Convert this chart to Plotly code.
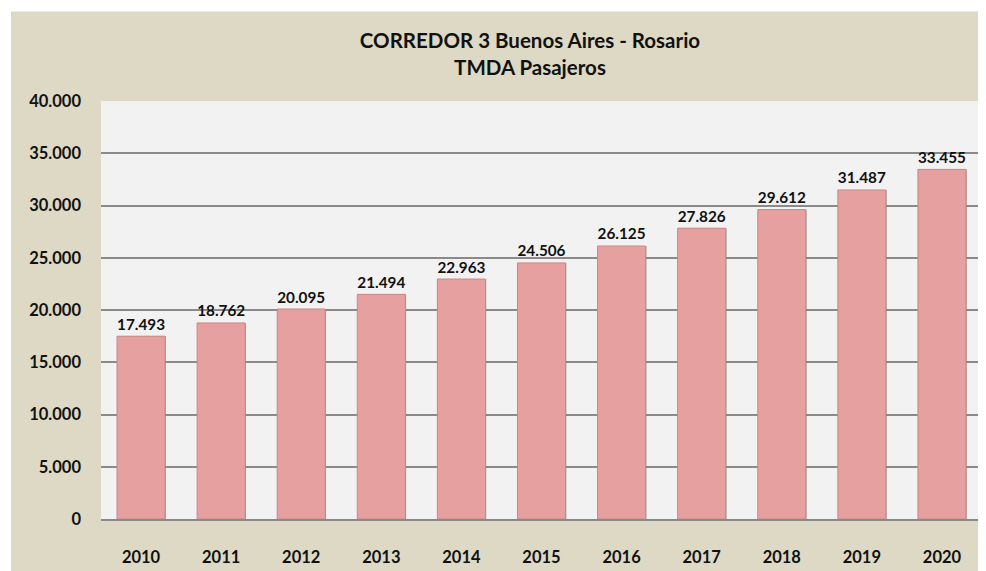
import plotly.graph_objects as go

years = ["2010", "2011", "2012", "2013", "2014", "2015", "2016", "2017", "2018", "2019", "2020"]
tmda = [17493, 18762, 20095, 21494, 22963, 24506, 26125, 27826, 29612, 31487, 33455]
y_ticks = [0, 5000, 10000, 15000, 20000, 25000, 30000, 35000, 40000]
title_lines = ["CORREDOR 3 Buenos Aires - Rosario", "TMDA Pasajeros"]

FONT = "Lato, Noto Sans, sans-serif"
# the page body has an 8px margin, so the figure is sized / placed accordingly
W, H = 978, 563
PW, PH = 881, 420

fig = go.Figure()
# shadow
fig.add_trace(go.Bar(
    x=years, y=tmda, offset=-0.29, width=0.6,
    marker=dict(color="rgba(90,90,90,0.55)", line=dict(width=0)),
    hoverinfo="skip", showlegend=False,
))
fig.add_trace(go.Bar(
    x=years, y=tmda, offset=-0.3, width=0.6,
    marker=dict(color="#E6A09F", line=dict(color="#C98887", width=1)),
    texttemplate="%{y:,}", textposition="outside",
    textfont=dict(family=FONT, size=17.5, color="#111", weight="bold"),
    cliponaxis=False, showlegend=False,
))

fig.update_layout(
    width=W, height=H,
    barmode="overlay",
    separators=",.",
    paper_bgcolor="#DDD9C4",
    plot_bgcolor="#F2F2F2",
    margin=dict(l=93, r=4, t=93, b=50),
    font=dict(family=FONT, size=16, color="#111"),
    title=dict(
        text=title_lines[0] + "<br>" + title_lines[1],
        x=522 / W, xanchor="center", y=1 - 40 / H, yanchor="middle",
        font=dict(family=FONT, size=20.5, color="#111", weight="bold"),
    ),
    shapes=[
        dict(type="rect", xref="paper", yref="paper", layer="below",
             x0=-93 / PW - 0.01, x1=-90 / PW, y0=-60 / PH, y1=1 + 110 / PH,
             fillcolor="white", line=dict(width=0)),
        dict(type="rect", xref="paper", yref="paper", layer="below",
             x0=-93 / PW - 0.01, x1=1.02, y0=1 + 90 / PH, y1=1 + 110 / PH,
             fillcolor="white", line=dict(width=0)),
    ],
    xaxis=dict(
        showgrid=False, showline=True, linecolor="#888", linewidth=1.5,
        ticks="", ticklabelstandoff=22,
        tickfont=dict(family=FONT, size=16.5, color="#111", weight="bold"),
    ),
    yaxis=dict(
        range=[0, 40000], tickvals=y_ticks, tickformat=",d",
        showgrid=True, gridcolor="#8A8A8A", gridwidth=1.5,
        zeroline=False, showline=False, ticks="", ticklabelstandoff=19,
        tickfont=dict(family=FONT, size=16.5, color="#111", weight="bold"),
    ),
)

fig.write_html("out.html")
